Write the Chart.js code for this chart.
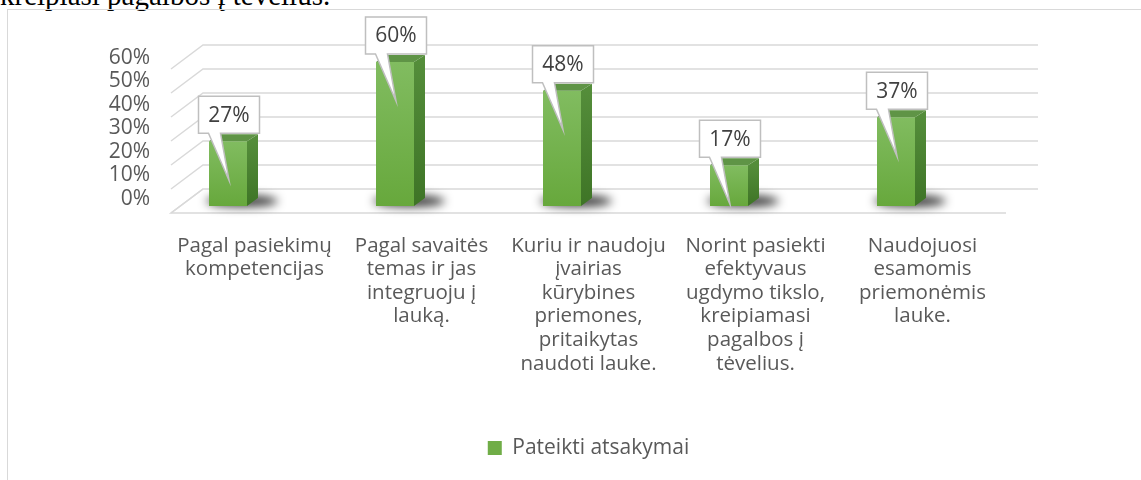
<!DOCTYPE html>
<html>
<head>
<meta charset="utf-8">
<script src="https://cdn.jsdelivr.net/npm/chart.js@4.4.1/dist/chart.umd.min.js"></script>
<style>
  html, body { margin: 0; padding: 0; background: #fff; overflow: hidden; }
  #intro { position: absolute; left: 0; top: -19px; font: 29px/29px "Liberation Serif", "Times New Roman", serif; color: #000; white-space: nowrap; }
  #frame { position: absolute; left: 7px; top: 9px; width: 1200px; height: 520px; border: 1px solid #d9d9d9; }
  #wrap { position: absolute; left: 0; top: 0; width: 1141px; height: 480px; }
</style>
</head>
<body>
<div id="intro">kreipiasi pagalbos į tėvelius.</div>
<div id="frame"></div>
<div id="wrap"><canvas id="chart" width="1141" height="480"></canvas></div>
<script>
// duomenys
const categories = [
    ['Pagal pasiekimų', 'kompetencijas'],
    ['Pagal savaitės', 'temas ir jas', 'integruoju į', 'lauką.'],
    ['Kuriu ir naudoju', 'įvairias', 'kūrybines', 'priemones,', 'pritaikytas', 'naudoti lauke.'],
    ['Norint pasiekti', 'efektyvaus', 'ugdymo tikslo,', 'kreipiamasi', 'pagalbos į', 'tėvelius.'],
    ['Naudojuosi', 'esamomis', 'priemonėmis', 'lauke.']
];
const seriesName = 'Pateikti atsakymai';
const seriesValues = [27, 60, 48, 17, 37];
const tickValues = [0, 10, 20, 30, 40, 50, 60];

const textColor = '#595959';
const gridColor = '#d9d9d9';
const font = 'Open Sans';

// 3D poslinkiai (pikseliais)
const BAR_SHIFT = -26.5;   // stulpeliai stovi giliau nei kategorijų centrai
const FRONT_DY = 7;
const BACK_DX = 32;
const BACK_DY = -17;
const SIDE_DX = 11;
const SIDE_DY = -7;

const frontGradient = (context) => {
    const chart = context.chart;
    const y = chart.scales.y;
    if (!y || context.parsed === undefined) return '#70ad47';
    const top = y.getPixelForValue(context.parsed.y);
    const base = y.getPixelForValue(0);
    const g = chart.ctx.createLinearGradient(0, top, 0, base);
    g.addColorStop(0, '#81bc60');
    g.addColorStop(1, '#67a83c');
    return g;
};

const depth3d = {
    id: 'depth3d',
    beforeDatasetsDraw(chart) {
        const { ctx, chartArea, scales: { y } } = chart;
        const left = chartArea.left, right = chartArea.right;
        const zero = y.getPixelForValue(0);
        ctx.save();

        // grindys
        ctx.beginPath();
        ctx.moveTo(left, zero + FRONT_DY);
        ctx.lineTo(right, zero + FRONT_DY);
        ctx.lineTo(right + BACK_DX, zero + BACK_DY);
        ctx.lineTo(left + BACK_DX, zero + BACK_DY);
        ctx.closePath();
        ctx.fillStyle = '#ffffff';
        ctx.fill();
        ctx.strokeStyle = gridColor;
        ctx.lineWidth = 1.5;
        ctx.beginPath();
        ctx.moveTo(right, zero + FRONT_DY);
        ctx.lineTo(left, zero + FRONT_DY);
        ctx.lineTo(left + BACK_DX, zero + BACK_DY);
        ctx.stroke();

        // tinklelis: šoninė ir galinė sienos
        tickValues.forEach(v => {
            const py = y.getPixelForValue(v);
            ctx.beginPath();
            ctx.moveTo(left, py + FRONT_DY);
            ctx.lineTo(left + BACK_DX, py + BACK_DY);
            ctx.lineTo(right + BACK_DX, py + BACK_DY);
            ctx.stroke();
        });

        // šešėliai
        const meta = chart.getDatasetMeta(0);
        ctx.filter = 'blur(5px)';
        meta.data.forEach(bar => {
            const cx = bar.x + BAR_SHIFT;
            ctx.fillStyle = 'rgba(0,0,0,0.75)';
            ctx.beginPath();
            ctx.ellipse(cx + 14, bar.base - 5, 36, 6, 0, 0, Math.PI * 2);
            ctx.fill();
        });
        ctx.filter = 'none';
        ctx.restore();

        ctx.save();
        ctx.translate(BAR_SHIFT, 0);
    },
    afterDatasetsDraw(chart) {
        const { ctx } = chart;
        const meta = chart.getDatasetMeta(0);
        meta.data.forEach(bar => {
            const xl = bar.x - bar.width / 2;
            const xr = bar.x + bar.width / 2;
            const top = bar.y, base = bar.base;

            // šonas
            const sg = ctx.createLinearGradient(0, top, 0, base);
            sg.addColorStop(0, '#548d3a');
            sg.addColorStop(1, '#3e7426');
            ctx.fillStyle = sg;
            ctx.beginPath();
            ctx.moveTo(xr, top);
            ctx.lineTo(xr + SIDE_DX, top + SIDE_DY);
            ctx.lineTo(xr + SIDE_DX, base + SIDE_DY - 1);
            ctx.lineTo(xr, base);
            ctx.closePath();
            ctx.fill();

            // viršus
            ctx.fillStyle = '#5f9446';
            ctx.beginPath();
            ctx.moveTo(xl, top);
            ctx.lineTo(xr, top);
            ctx.lineTo(xr + SIDE_DX, top + SIDE_DY);
            ctx.lineTo(xl + SIDE_DX, top + SIDE_DY);
            ctx.closePath();
            ctx.fill();
        });
        ctx.restore();

        // reikšmių „burbulai“
        ctx.save();
        ctx.font = '21px "' + font + '"';
        ctx.textAlign = 'center';
        ctx.textBaseline = 'middle';
        meta.data.forEach((bar, i) => {
            const cx = bar.x + BAR_SHIFT + 1;
            const w = 61, h = 37;
            const bl = cx - w / 2;
            const bb = bar.y - 8;
            const bt = bb - h;
            ctx.beginPath();
            ctx.moveTo(bl, bt);
            ctx.lineTo(bl + w, bt);
            ctx.lineTo(bl + w, bb);
            ctx.lineTo(bl + 22, bb);
            ctx.lineTo(cx, bb + 47);
            ctx.lineTo(bl + 10, bb);
            ctx.lineTo(bl, bb);
            ctx.closePath();
            ctx.fillStyle = '#ffffff';
            ctx.fill();
            ctx.strokeStyle = '#bfbfbf';
            ctx.lineWidth = 1.5;
            ctx.stroke();
            ctx.fillStyle = '#404040';
            ctx.fillText(seriesValues[i] + '%', cx, bt + h / 2 + 1);
        });
        ctx.restore();
    }
};

new Chart(document.getElementById('chart'), {
    type: 'bar',
    data: {
        labels: categories,
        datasets: [{
            label: seriesName,
            data: seriesValues,
            backgroundColor: frontGradient,
            borderWidth: 0,
            barPercentage: 38 / 167,
            categoryPercentage: 1,
            clip: false
        }]
    },
    options: {
        responsive: false,
        animation: false,
        devicePixelRatio: 1,
        layout: {
            autoPadding: false,
            padding: { left: 0, right: 135, top: 38, bottom: 11.5 }
        },
        scales: {
            x: {
                grid: { display: false, drawTicks: false },
                border: { display: false },
                ticks: {
                    color: textColor,
                    font: { family: font, size: 20.5, lineHeight: 1.15 },
                    padding: 28,
                    maxRotation: 0,
                    autoSkip: false
                },
                afterFit: (scale) => { scale.height = 221.5; }
            },
            y: {
                display: false,
                min: 0,
                max: 70
            },
            yTicks: {
                position: 'left',
                min: -2.979,
                max: 68.51,
                grid: { display: false, drawTicks: false },
                border: { display: false },
                afterBuildTicks: (scale) => { scale.ticks = tickValues.map(v => ({ value: v })); },
                afterFit: (scale) => { scale.width = 171; },
                ticks: {
                    color: textColor,
                    font: { family: font, size: 21, lineHeight: 1.1 },
                    padding: 21,
                    autoSkip: false,
                    callback: (v) => v + '%'
                }
            }
        },
        plugins: {
            legend: {
                position: 'bottom',
                fullSize: false,
                labels: {
                    color: textColor,
                    font: { family: font, size: 21 },
                    boxWidth: 14,
                    boxHeight: 14,
                    padding: 10,
                    generateLabels(chart) {
                        const items = Chart.defaults.plugins.legend.labels.generateLabels(chart);
                        items.forEach(it => { it.fillStyle = '#70ad47'; it.strokeStyle = '#70ad47'; it.lineWidth = 0; });
                        return items;
                    }
                }
            },
            tooltip: { enabled: false }
        }
    },
    plugins: [depth3d]
});
</script>
</body>
</html>
